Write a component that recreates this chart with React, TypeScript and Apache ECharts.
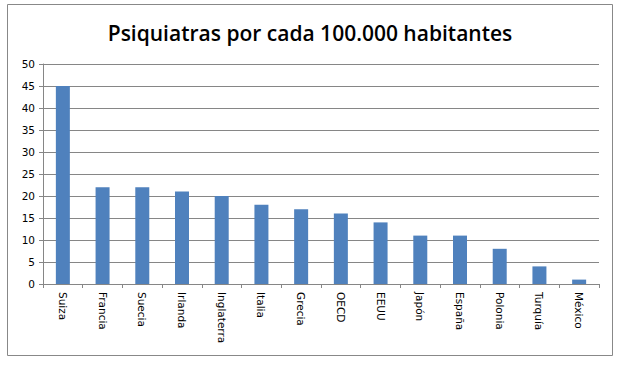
import React, { useEffect, useRef } from "react";
import * as echarts from "echarts";

const categories = ["Suiza", "Francia", "Suecia", "Irlanda", "Inglaterra", "Italia", "Grecia", "OECD", "EEUU", "Japón", "España", "Polonia", "Turquía", "México"];
const values = [45, 22, 22, 21, 20, 18, 17, 16, 14, 11, 11, 8, 4, 1];
const title = "Psiquiatras por cada 100.000 habitantes";

export default function App() {
  const ref = useRef<HTMLDivElement>(null);
  useEffect(() => {
    document.body.style.margin = "0";
    const chart = echarts.init(ref.current!, null, { renderer: "svg" });
    chart.setOption({
      animation: false,
      backgroundColor: "#fff",
      title: {
        text: title,
        left: "center",
        top: 17,
        textStyle: { fontFamily: "Open Sans", fontWeight: 600, fontSize: 21, color: "#000" },
      },
      graphic: [
        {
          type: "rect",
          shape: { x: 7.5, y: 4.5, width: 605, height: 351 },
          style: { fill: "none", stroke: "#888", lineWidth: 1 },
          z: -1,
        },
      ],
      grid: { left: 43, right: 21, top: 64, bottom: 84 },
      xAxis: {
        type: "category",
        data: categories,
        axisLine: { lineStyle: { color: "#868686" } },
        axisTick: { show: true, alignWithLabel: false, length: 4, lineStyle: { color: "#868686" } },
        axisLabel: { rotate: -90, fontFamily: "DejaVu Sans", fontSize: 10.5, color: "#000", margin: 8, interval: 0 },
      },
      yAxis: {
        type: "value",
        min: 0,
        max: 50,
        interval: 5,
        axisLine: { show: true, lineStyle: { color: "#868686" } },
        axisTick: { show: true, length: 4, lineStyle: { color: "#868686" } },
        splitLine: { lineStyle: { color: "#868686" } },
        axisLabel: { fontFamily: "DejaVu Sans", fontSize: 10.5, color: "#000", margin: 8 },
      },
      series: [
        {
          type: "bar",
          data: values,
          barWidth: 14,
          itemStyle: { color: "#4F81BD" },
        },
      ],
    });
    return () => chart.dispose();
  }, []);
  return <div ref={ref} style={{ width: 620, height: 368 }} />;
}
